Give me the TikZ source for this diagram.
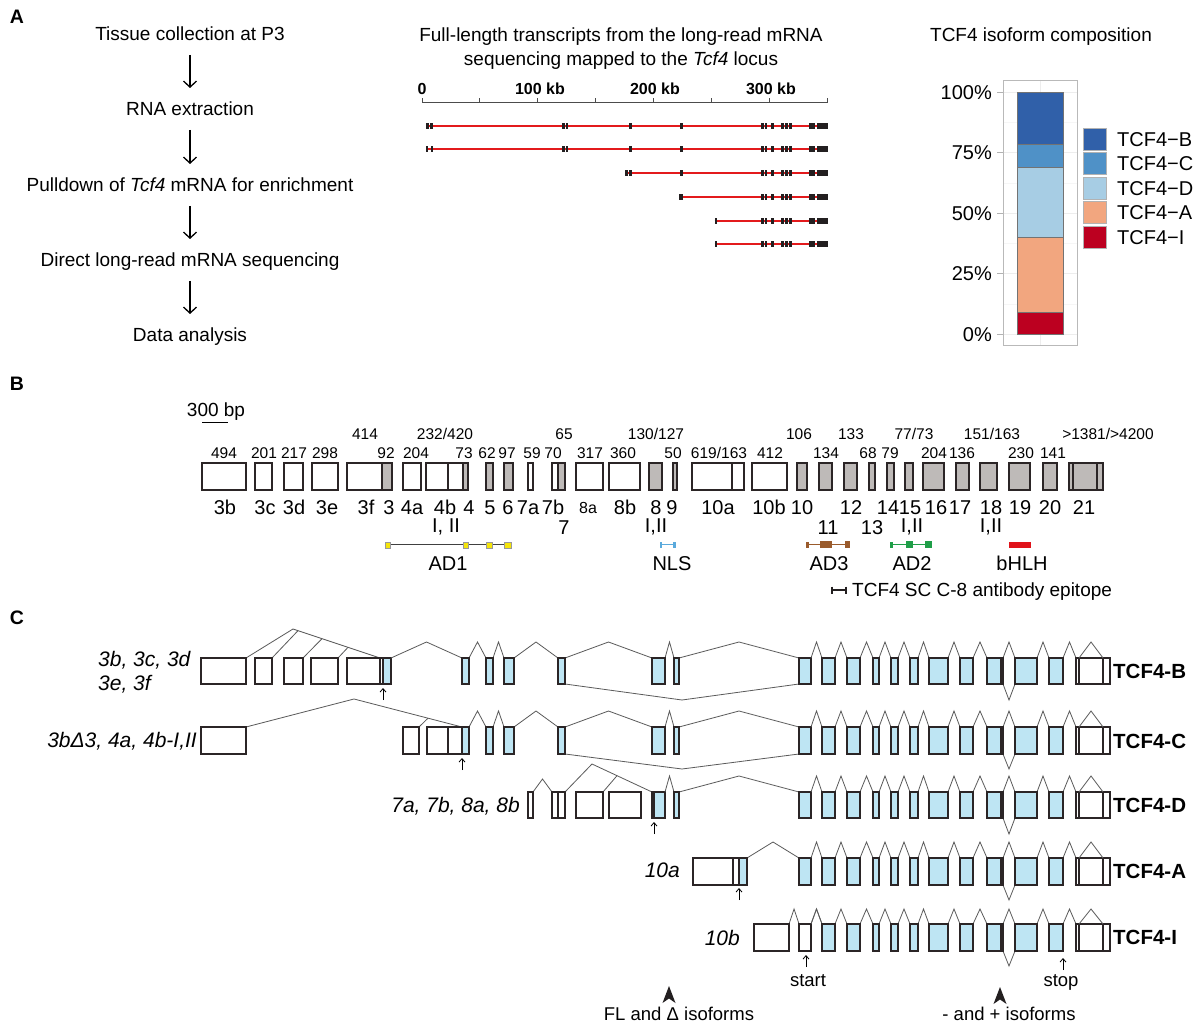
\documentclass[tikz,border=0pt]{standalone}
\usepackage{fontspec}
\setmainfont{Liberation Sans}
\usetikzlibrary{arrows.meta}
\definecolor{exb}{HTML}{BEE5F3}
\definecolor{exg}{HTML}{BEBAB8}
\definecolor{edg}{HTML}{2B2526}
\definecolor{spl}{HTML}{5A5A5A}
\definecolor{trred}{HTML}{E31A1C}
\definecolor{blk}{HTML}{231F20}
\definecolor{cB}{HTML}{3060A9}
\definecolor{cC}{HTML}{4F91C7}
\definecolor{cD}{HTML}{A7CDE4}
\definecolor{cA}{HTML}{F2A67F}
\definecolor{cI}{HTML}{BC0020}
\definecolor{yel}{HTML}{F5E50A}
\definecolor{nlsb}{HTML}{5BAADC}
\definecolor{brn}{HTML}{9A5B2C}
\definecolor{grn}{HTML}{1F9E48}
\definecolor{bred}{HTML}{E0131A}
\newcommand\exonbox[3]{\draw[exon,fill=#3] (#1,\rowT) rectangle (#2,\rowB);}
\newcommand\pbox[3]{\draw[exon,fill=#3] (#1,463) rectangle (#2,490);}
\newcommand\spk[2]{\draw[splice] (#1,\rowT) -- ({(#1+#2)/2},\rowP) -- (#2,\rowT);}
\newcommand\commonpart{%
  \foreach \a/\b in {811/822,835/847,860/873,879/891,898/910,918/929,948/960,973/987,1003/1015,1037/1049,1063/1076}{\spk{\a}{\b}}%
  \draw[splice] (1003,\rowB) -- (1009,\rowV) -- (1015,\rowB);%
  \foreach \a/\b in {822/835,847/860,873/879,891/898,910/918,929/948,960/973,987/1003,1015/1037,1049/1063}{\exonbox{\a}{\b}{exb}}%
  \draw[exon] (1001,\rowT) -- (1001,\rowB);%
  \draw[exon,fill=white] (1076,\rowT) rectangle (1110,\rowB);%
  \draw[exon] (1079,\rowT) -- (1079,\rowB) (1103,\rowT) -- (1103,\rowB);%
  \spk{1079}{1103}%
}
\newcommand\trtail[1]{\foreach \a/\b in {761/763.5,765/767,771/773.5,781/784,785/787.5,789/792,809/815,816.5/827.5}{\fill[blk] (\a,{#1-3}) rectangle (\b,{#1+3});}}
\begin{document}
\begin{tikzpicture}[x=1pt,y=-1pt,
  every node/.style={inner sep=0pt,text depth=0pt},
  tx/.style={font=\fontsize{19}{22}\selectfont,text height=13.6pt},
  nm/.style={font=\fontsize{15.5}{18}\selectfont,text height=11.1pt},
  lb/.style={font=\fontsize{20}{24}\selectfont,text height=14.3pt},
  sm/.style={font=\fontsize{18.5}{22}\selectfont,text height=13.2pt},
  smaller/.style={font=\fontsize{16}{19}\selectfont,text height=11.5pt},
  pn/.style={font=\fontsize{19.5}{22}\selectfont\bfseries,text height=14pt},
  ax/.style={font=\fontsize{16}{19}\selectfont\bfseries,text height=11.5pt},
  isolab/.style={font=\fontsize{20.5}{24}\selectfont\bfseries,text height=14.7pt,anchor=west},
  itl/.style={font=\fontsize{21}{24}\selectfont\itshape,text height=15pt},
  exon/.style={draw=edg,line width=1.2pt},
  splice/.style={draw=spl,line width=0.8pt},
  flowarr/.style={-{Straight Barb[length=6pt,width=13pt,line width=1.3pt]},line width=1.3pt,shorten <=14pt,shorten >=14pt},
  smarr/.style={-{Straight Barb[length=3.5pt,width=6pt,line width=0.8pt]},line width=0.8pt},
  trline/.style={draw=trred,line width=2pt},
  barseg/.style={draw=black!55,line width=0.5pt},
  key/.style={draw=gray!60,line width=0.5pt}]
\fill[white] (0,0) rectangle (1200,1024);
\useasboundingbox (0,0) rectangle (1200,1024);

% ---------------- Panel A ----------------
\node[pn] (pA) at (17,17) {A};
\node[tx] (t1) at (190,34) {Tissue collection at P3};
\node[tx] (t2) at (190,109) {RNA extraction};
\node[tx] (t3) at (190,185) {Pulldown of \textit{Tcf4} mRNA for enrichment};
\node[tx] (t4) at (190,260) {Direct long-read mRNA sequencing};
\node[tx] (t5) at (190,335) {Data analysis};
\draw[flowarr] (t1) -- (t2);
\draw[flowarr] (t2) -- (t3);
\draw[flowarr] (t3) -- (t4);
\draw[flowarr] (t4) -- (t5);

% middle: transcripts
\node[tx] (mt1) at (621,35) {Full-length transcripts from the long-read mRNA};
\node[tx] (mt2) at (621,59) {sequencing mapped to the \textit{Tcf4} locus};
\node[ax] (k0) at (422,89) {0};
\node[ax] (k1) at (540,89) {100 kb};
\node[ax] (k2) at (655,89) {200 kb};
\node[ax] (k3) at (771,89) {300 kb};
\draw[black!70,line width=0.8pt] (422,102) -- (827,102);
\foreach \k in {0,...,7}{\draw[black!70,line width=0.8pt] ({422+\k*57.86},98.5) -- ({422+\k*57.86},103);}
% row 1
\draw[trline] (426,126) -- (827,126);
\foreach \a/\b in {426/429.3,430.3/433.3,561.7/564.5,565.5/568.3,629.3/632,680/683.3}{\fill[blk] (\a,123) rectangle (\b,129);}
\trtail{126}
% row 2
\draw[trline] (426,149) -- (827,149);
\foreach \a/\b in {426/428.3,430.5/433.3,561.7/564.5,565.5/568.3,629.3/632,680/683.3}{\fill[blk] (\a,146) rectangle (\b,152);}
\trtail{149}
% row 3
\draw[trline] (625.3,173) -- (827,173);
\foreach \a/\b in {625.3/628,629/632,680/683.3}{\fill[blk] (\a,170) rectangle (\b,176);}
\trtail{173}
% row 4
\draw[trline] (679.3,197) -- (827,197);
\fill[blk] (679.3,194) rectangle (683.3,200);
\trtail{197}
% row 5
\draw[trline] (714.7,221) -- (827,221);
\fill[blk] (714.7,218) rectangle (717,224);
\trtail{221}
% row 6
\draw[trline] (714.7,244) -- (827,244);
\fill[blk] (714.7,241) rectangle (717,247);
\trtail{244}

% right: isoform composition
\node[tx] (ct) at (1041,35) {TCF4 isoform composition};
\foreach \y in {122.25,182.75,243.25,303.75}{\draw[gray!7,line width=0.4pt] (1003,\y) -- (1077,\y);}
\foreach \y in {92,152.5,213,273.5,334}{\draw[gray!14,line width=0.6pt] (1003,\y) -- (1077,\y);}
\draw[gray!14,line width=0.6pt] (1040,80) -- (1040,345);
\draw[gray!55,line width=0.6pt] (1003,80) rectangle (1077,345);
\foreach \y/\t [count=\i] in {92/100\%,152.5/75\%,213/50\%,273.5/25\%,334/0\%}{%
  \draw[gray!60,line width=0.6pt] (997,\y) -- (1003,\y);
  \node[lb,anchor=east] (yl\i) at (992,\y) {\t};}
\filldraw[barseg,fill=cB] (1017,92) rectangle (1063,144);
\filldraw[barseg,fill=cC] (1017,144) rectangle (1063,167);
\filldraw[barseg,fill=cD] (1017,167) rectangle (1063,237);
\filldraw[barseg,fill=cA] (1017,237) rectangle (1063,312);
\filldraw[barseg,fill=cI] (1017,312) rectangle (1063,334);
\filldraw[key,fill=cB] (1083,128) rectangle (1106,150);
\filldraw[key,fill=cC] (1083,152.5) rectangle (1106,174.5);
\filldraw[key,fill=cD] (1083,177) rectangle (1106,199);
\filldraw[key,fill=cA] (1083,201.5) rectangle (1106,223.5);
\filldraw[key,fill=cI] (1083,226.5) rectangle (1106,248.5);
\node[lb,anchor=west] (kB) at (1117,139) {TCF4−B};
\node[lb,anchor=west] (kC) at (1117,163.5) {TCF4−C};
\node[lb,anchor=west] (kD) at (1117,188) {TCF4−D};
\node[lb,anchor=west] (kA) at (1117,212.5) {TCF4−A};
\node[lb,anchor=west] (kI) at (1117,237.5) {TCF4−I};

% ---------------- Panel B ----------------
\node[pn] (pB) at (17,383) {B};
\node[tx] (sb) at (216,410) {300 bp};
\draw[black,line width=1pt] (202,422) -- (228,422);
\foreach \a/\b in {202/246,255/272,284/303,312/338,347/382,403/421,426/448,448/463,528/533,552/558,576/603,609/640,692/732,732/744,752/787}{\pbox{\a}{\b}{white}}
\foreach \a/\b in {382/392,463/468,486/493,504/513,558/565,649/662,673/677,797/807,819/832,844/857,869/875,887/894,905/913,923/944,956/969,980/997,1009/1030,1043/1057,1069/1103}{\pbox{\a}{\b}{exg}}
\draw[exon] (1073,463) -- (1073,490) (1097,463) -- (1097,490);
% numbers lower row
\foreach \x/\t [count=\i] in {224/494,264/201,294/217,325/298,386/92,416/204,464/73,487/62,507/97,532/59,553/70,590/317,623/360,673/50,770/412,826/134,868/68,890/79,934/204,962/136,1021/230,1053/141}{\node[nm] (nl\i) at (\x,453) {\t};}
\node[nm] (nl23) at (719,453) {619/163};
% numbers upper row
\node[nm] (nu1) at (365,434) {414};
\node[nm] (nu2) at (445,434) {232/420};
\node[nm] (nu3) at (564,434) {65};
\node[nm] (nu4) at (656,434) {130/127};
\node[nm] (nu5) at (799,434) {106};
\node[nm] (nu6) at (851,434) {133};
\node[nm] (nu7) at (914,434) {77/73};
\node[nm] (nu8) at (992,434) {151/163};
\node[nm] (nu9) at (1108,434) {>1381/>4200};
% exon labels
\foreach \x/\t [count=\i] in {225/3b,265/3c,294/3d,327/3e,366/3f,389/3,412/4a,445/4b,469/4,490/5,508/6,528/7a,553/7b,625/8b,656/8,672/9,718/10a,769/10b,802/10,851/12,888/14,910/15,936/16,960/17,991/18,1020/19,1050/20,1084/21}{\node[lb] (el\i) at (\x,507) {\t};}
\node[smaller] (el8a) at (588,508) {8a};
\node[lb] (e2a) at (446,525) {I, II};
\node[lb] (e2b) at (564,527) {7};
\node[lb] (e2c) at (656,525) {I,II};
\node[lb] (e2d) at (828,527) {11};
\node[lb] (e2e) at (872,527) {13};
\node[lb] (e2f) at (912,525) {I,II};
\node[lb] (e2g) at (991,525) {I,II};
% domains
\draw[black!75,line width=0.8pt] (390,544.7) -- (504,544.7);
\foreach \a/\b in {385/390,462.7/468.3,486/491.7,504.3/511}{\filldraw[fill=yel,draw=black!40,line width=0.4pt] (\a,541.7) rectangle (\b,547.7);}
\draw[nlsb,line width=1pt] (660,544.5) -- (675,544.5);
\fill[nlsb] (659.5,541.5) rectangle (662,547.5);
\fill[nlsb] (673,541.5) rectangle (675.5,547.5);
\draw[brn,line width=1pt] (806,544.5) -- (850,544.5);
\fill[brn] (806,541.5) rectangle (808.5,547.5);
\fill[brn] (820,541) rectangle (831.7,548);
\fill[brn] (845,541) rectangle (850,548);
\draw[grn,line width=1pt] (890,544.5) -- (932,544.5);
\fill[grn] (890,541.5) rectangle (893.3,547.5);
\fill[grn] (906,541) rectangle (913.3,548);
\fill[grn] (925,541) rectangle (931.7,548);
\fill[bred] (1009.3,541.5) rectangle (1031,548.3);
\node[lb] (dAD1) at (448,563) {AD1};
\node[lb] (dNLS) at (672,563) {NLS};
\node[lb] (dAD3) at (829,563) {AD3};
\node[lb] (dAD2) at (912,563) {AD2};
\node[lb] (dbHLH) at (1022,563) {bHLH};
\draw[blk,line width=1.3pt] (832,590) -- (846,590);
\draw[blk,line width=1.6pt] (832,586.5) -- (832,593.5) (846,586.5) -- (846,593.5);
\node[tx,anchor=west] (epi) at (852,590) {TCF4 SC C-8 antibody epitope};

% ---------------- Panel C ----------------
\node[pn] (pC) at (17,617) {C};
% TCF4-B
\def\rowT{658}\def\rowB{684}\def\rowP{642}\def\rowV{700}
\draw[splice] (246,658) -- (293,629) -- (380,658);
\draw[splice] (272,658) -- (298,630.67);
\draw[splice] (303,658) -- (322,638.67);
\draw[splice] (338,658) -- (348,647.33);
\foreach \a/\b in {201/246,255/272,284/303,311/338,347/380,380/383}{\exonbox{\a}{\b}{white}}
\exonbox{383}{391}{exb}
\draw[smarr] (383,700) -- (383,688);
\spk{391}{462}\spk{469}{486}\spk{493}{504}\spk{514}{558}\spk{565}{652}\spk{665}{674}\spk{679}{799}
\draw[splice] (565,684) -- (682,700) -- (799,684);
\foreach \a/\b in {462/469,486/493,504/514,558/565,652/665,674/679,799/811}{\exonbox{\a}{\b}{exb}}
\commonpart
% TCF4-C
\def\rowT{727}\def\rowB{754}\def\rowP{711}\def\rowV{769}
\draw[splice] (246,727) -- (354,699) -- (462,727);
\draw[splice] (419,727) -- (428,718.2);
\foreach \a/\b in {201/246,403/419,427/448,448/462}{\exonbox{\a}{\b}{white}}
\draw[smarr] (462,770) -- (462,758);
\spk{469}{486}\spk{493}{504}\spk{514}{558}\spk{565}{652}\spk{665}{674}\spk{679}{799}
\draw[splice] (565,754) -- (682,769) -- (799,754);
\foreach \a/\b in {462/469,486/493,504/514,558/565,652/665,674/679,799/811}{\exonbox{\a}{\b}{exb}}
\commonpart
% TCF4-D
\def\rowT{792}\def\rowB{818}\def\rowP{776}\def\rowV{834}
\draw[splice] (533,792) -- (542.5,779) -- (552,792);
\draw[splice] (565,792) -- (592,764) -- (652,792);
\draw[splice] (603,792) -- (617,775.7);
\foreach \a/\b in {528/533,552/558,558/565,576/603,609/641,652/654}{\exonbox{\a}{\b}{white}}
\exonbox{654}{665}{exb}
\draw[smarr] (654,834) -- (654,822);
\spk{665}{674}\spk{679}{799}
\exonbox{674}{679}{exb}\exonbox{799}{811}{exb}
\commonpart
% TCF4-A
\def\rowT{858}\def\rowB{885}\def\rowP{842}\def\rowV{900}
\draw[splice] (747,858) -- (773,842) -- (799,858);
\exonbox{693}{733}{white}\exonbox{733}{739}{white}\exonbox{739}{747}{exb}
\draw[smarr] (739,900) -- (739,888);
\exonbox{799}{811}{exb}
\commonpart
% TCF4-I
\def\rowT{924}\def\rowB{951}\def\rowP{909}\def\rowV{966}
\spk{789}{799}\spk{811}{822}
\exonbox{754}{789}{white}
\draw[draw=edg,line width=2pt,fill=white] (799,924) rectangle (811,951);
\draw[smarr] (806,967) -- (806,955);
\draw[smarr] (1063,970) -- (1063,958);
\commonpart
\node[sm] (lstart) at (808,980) {start};
\node[sm] (lstop) at (1061,980) {stop};
% row labels
\node[isolab] (iB) at (1113,671) {TCF4-B};
\node[isolab] (iC) at (1113,741) {TCF4-C};
\node[isolab] (iD) at (1113,805) {TCF4-D};
\node[isolab] (iA) at (1113,871) {TCF4-A};
\node[isolab] (iI) at (1113,937) {TCF4-I};
\node[itl,anchor=west] (lb1) at (98,659) {3b, 3c, 3d};
\node[itl,anchor=west] (lb2) at (98,683) {3e, 3f};
\node[itl,anchor=east] (lc) at (197,740) {3bΔ3, 4a, 4b-I,II};
\node[itl,anchor=east] (ld) at (520,805) {7a, 7b, 8a, 8b};
\node[itl,anchor=east] (la) at (680,870) {10a};
\node[itl,anchor=east] (li) at (740,938) {10b};
% isoform arrowheads
\fill[blk] (669,986) -- (675.5,1003) -- (669,998.5) -- (662.5,1003) -- cycle;
\node[sm] (fl) at (679,1014) {FL and Δ isoforms};
\fill[blk] (1000,987) -- (1006.5,1004) -- (1000,999.5) -- (993.5,1004) -- cycle;
\node[sm] (pm) at (1009,1014) {- and + isoforms};
\end{tikzpicture}
\end{document}
